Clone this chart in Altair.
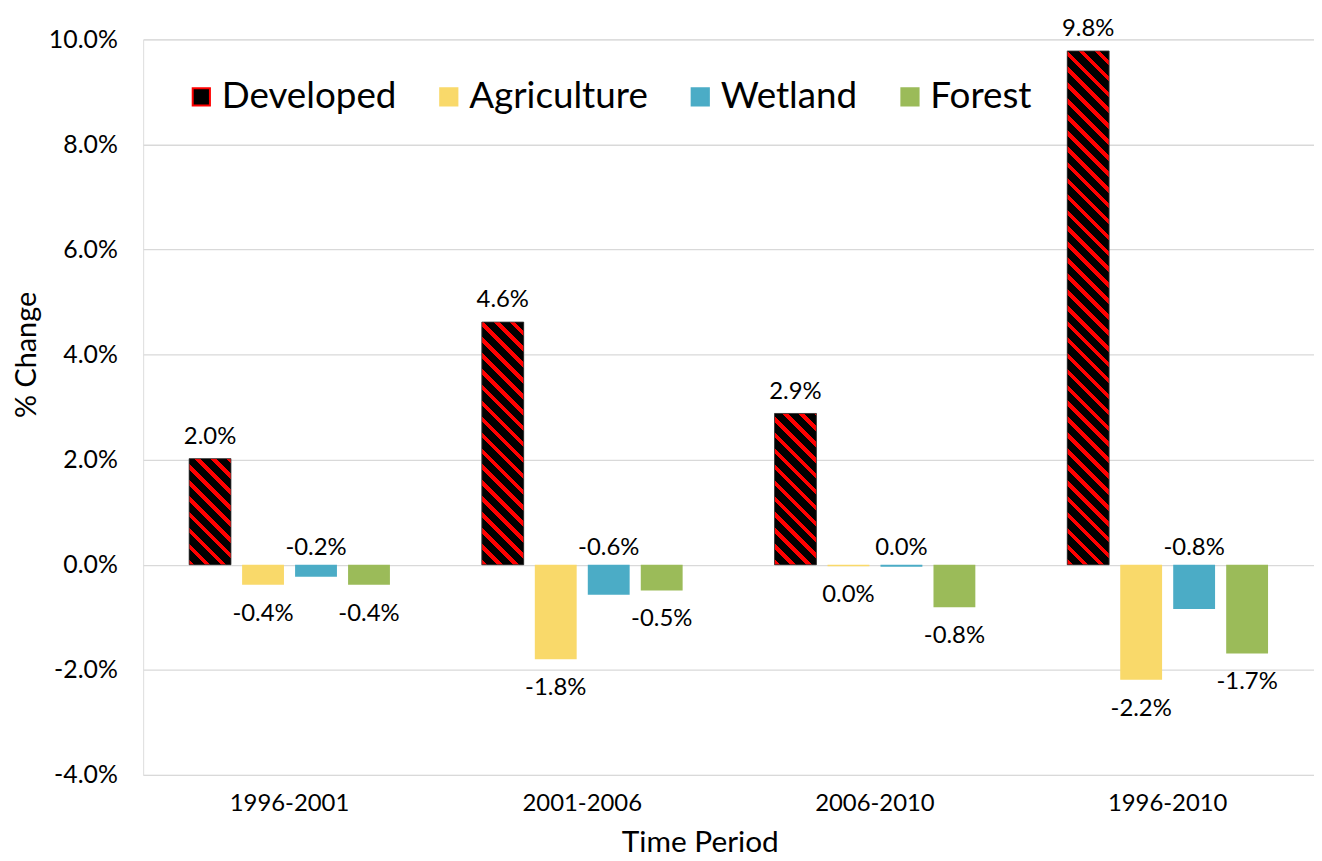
import altair as alt
import pandas as pd

periods = ["1996-2001", "2001-2006", "2006-2010", "1996-2010"]
categories = ["Developed", "Agriculture", "Wetland", "Forest"]
developed = [0.0202, 0.0462, 0.0288, 0.0978]
agriculture = [-0.0038, -0.0180, -0.0003, -0.0219]
wetland = [-0.0023, -0.0057, -0.0004, -0.0084]
forest = [-0.0038, -0.0049, -0.0081, -0.0169]
fill_colors = ["#000000", "#F9D96A", "#4BACC6", "#9BBB59"]
stroke_colors = ["#FF0000", "#F9D96A", "#4BACC6", "#9BBB59"]
y_ticks = [-0.04, -0.02, 0.0, 0.02, 0.04, 0.06, 0.08, 0.10]

series = dict(zip(categories, [developed, agriculture, wetland, forest]))
df = pd.DataFrame(
    [{"period": p, "cat": c, "value": v} for c in categories for p, v in zip(periods, series[c])]
)

FONT = "Lato"
TXT = "#000000"
PLOT_W, PLOT_H = 1178, 740
Y_MIN, Y_MAX = -0.04, 0.10
PX_PER_UNIT = PLOT_H / (Y_MAX - Y_MIN)
X_PAD_IN, X_PAD_OUT = 0.314, 0.157
OFF_PAD_IN = 0.21
STEP = PLOT_W / (len(periods) - X_PAD_IN + 2 * X_PAD_OUT)
BAR_W = STEP * (1 - X_PAD_IN) / (len(categories) - OFF_PAD_IN) * (1 - OFF_PAD_IN)


def stripe_gradient(h, w=BAR_W, period=16.0, red_frac=0.35):
    """Diagonal red/black hatch as a hard-stop linear gradient."""
    k = (w + h) * w / (w * w + h * h)
    n = (w + h) / period
    stops = []
    i = 0
    while i < n:
        a = i / n
        b = min((i + red_frac) / n, 1.0)
        c = min((i + 1) / n, 1.0)
        stops += [
            {"offset": a, "color": "#FF0000"},
            {"offset": b, "color": "#FF0000"},
            {"offset": b, "color": "#000000"},
            {"offset": c, "color": "#000000"},
        ]
        i += 1
    return alt.LinearGradient(
        gradient="linear", x1=0, y1=1, x2=k, y2=1 - k * h / w, stops=stops
    )


minus_fix = "replace(format(datum.value, '.1%'), '\u2212', '-')"

x_enc = alt.X(
    "period:N",
    sort=periods,
    scale=alt.Scale(paddingInner=X_PAD_IN, paddingOuter=X_PAD_OUT),
    axis=alt.Axis(
        title="Time Period",
        labelAngle=0,
        labelFontSize=24,
        labelPadding=17,
        labelColor=TXT,
        labelFont=FONT,
        domain=False,
        ticks=False,
        grid=False,
        titleFontSize=30,
        titleFont=FONT,
        titleFontWeight="normal",
        titleColor=TXT,
        titleX=560,
        titleY=68,
        titleBaseline="middle",
        titleAlign="center",
    ),
)
xoff_enc = alt.XOffset(
    "cat:N",
    sort=categories,
    scale=alt.Scale(domain=categories, paddingInner=OFF_PAD_IN, paddingOuter=0),
)
y_enc = alt.Y(
    "value:Q",
    scale=alt.Scale(domain=[Y_MIN, Y_MAX], nice=False, zero=False),
    axis=alt.Axis(
        values=y_ticks,
        labelExpr=minus_fix,
        title="% Change",
        titleFontSize=29,
        titleFont=FONT,
        titleFontWeight="normal",
        titleColor=TXT,
        titleX=-117,
        titleY=317,
        titleAngle=270,
        titleAlign="center",
        titleBaseline="middle",
        labelFontSize=25,
        labelFont=FONT,
        labelColor=TXT,
        labelPadding=26,
        domain=False,
        ticks=False,
        grid=True,
        gridColor="#D9D9D9",
        gridWidth=1.3,
    ),
)

legend = alt.Legend(
    orient="none",
    legendX=40,
    legendY=39,
    direction="horizontal",
    title=None,
    labelFontSize=37,
    labelFont=FONT,
    labelColor=TXT,
    labelLimit=400,
    symbolType="square",
    symbolSize=300,
    symbolStrokeWidth=2,
    labelOffset=2,
    columnPadding=34,
    padding=0,
)

base = alt.Chart(df)

bars = base.mark_bar().encode(
    x=x_enc,
    xOffset=xoff_enc,
    y=y_enc,
    color=alt.Color("cat:N", scale=alt.Scale(domain=categories, range=fill_colors), legend=legend),
    stroke=alt.Stroke("cat:N", scale=alt.Scale(domain=categories, range=stroke_colors), legend=legend),
    strokeWidth=alt.condition("datum.cat == 'Developed'", alt.value(0.01), alt.value(0)),
)

layers = [bars]
for p, v in zip(periods, developed):
    h = abs(v) * PX_PER_UNIT
    layers.append(
        base.transform_filter(
            f"datum.cat == 'Developed' && datum.period == '{p}'"
        ).mark_bar(fill=stripe_gradient(h), stroke="#3A3A3A", strokeWidth=0.8).encode(
            x=x_enc, xOffset=xoff_enc, y=y_enc
        )
    )

text_common = dict(fontSize=24, font=FONT, color=TXT, baseline="alphabetic", align="center")

pos_text = base.transform_filter(
    "datum.cat != 'Wetland' && datum.value >= 0"
).transform_calculate(label=minus_fix).mark_text(dy=-15, **text_common).encode(
    x=x_enc, xOffset=xoff_enc, y=y_enc, text="label:N"
)
neg_text = base.transform_filter(
    "datum.cat != 'Wetland' && datum.value < 0"
).transform_calculate(label=minus_fix).mark_text(dy=36, **text_common).encode(
    x=x_enc, xOffset=xoff_enc, y=y_enc, text="label:N"
)
wet_text = base.transform_filter("datum.cat == 'Wetland'").transform_calculate(
    label=minus_fix
).transform_calculate(value="0").mark_text(dy=-10, **text_common).encode(
    x=x_enc, xOffset=xoff_enc, y=y_enc, text="label:N"
)

layers += [pos_text, neg_text, wet_text]

chart = (
    alt.layer(*layers)
    .properties(
        width=PLOT_W,
        height=PLOT_H,
        autosize=alt.AutoSizeParams(type="none"),
        padding={"left": 136, "top": 29, "right": 0, "bottom": 80},
        background="#FFFFFF",
    )
    .configure_view(stroke=None)
    .configure(font=FONT)
)

chart.save("out.html", embed_options={"renderer": "svg", "actions": False})
